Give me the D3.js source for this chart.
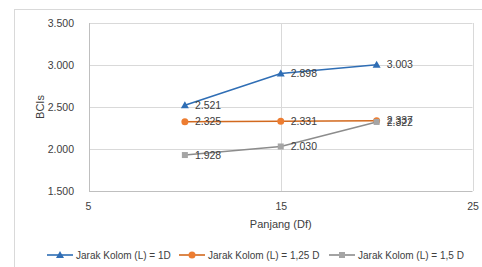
<!DOCTYPE html>
<html>
<head>
<meta charset="utf-8">
<script src="https://cdn.jsdelivr.net/npm/d3@7"></script>
<style>
  body{margin:0;background:#fff;}
  text{font-family:"Liberation Sans",Arial,sans-serif;fill:#404040;}
</style>
</head>
<body>
<div id="chart"></div>
<script>
var WIDTH=482,
	HEIGHT=267;

// data
var panjang=[10,15,20];
var seriesNames=["Jarak Kolom (L) = 1D","Jarak Kolom (L) = 1,25 D","Jarak Kolom (L) = 1,5 D"];
var bcis1D=[2.521,2.898,3.003];
var bcis125D=[2.325,2.331,2.337];
var bcis15D=[1.928,2.030,2.322];
var xTicks=[5,15,25];
var yTicks=[1.5,2.0,2.5,3.0,3.5];

var series=[
	{name:seriesNames[0],values:bcis1D,line:"#2F6EB5",fill:"#2F6EB5",marker:"triangle"},
	{name:seriesNames[1],values:bcis125D,line:"#D2691E",fill:"#ED7D31",marker:"circle"},
	{name:seriesNames[2],values:bcis15D,line:"#8C8C8C",fill:"#A5A5A5",marker:"square"}
];

var plot={left:89,right:472.5,top:23,bottom:191};

var svg=d3.select("#chart")
			.append("svg")
				.attr("width",WIDTH)
				.attr("height",HEIGHT);

// chart area border
svg.append("rect")
	.attr("x",14.5).attr("y",9.5)
	.attr("width",480).attr("height",280)
	.attr("fill","#fff")
	.attr("stroke","#D9D9D9");

var xscale=d3.scaleLinear().domain([5,25]).range([plot.left,plot.right]),
	yscale=d3.scaleLinear().domain([1.5,3.5]).range([plot.bottom,plot.top]);

// grid
var grid=svg.append("g");
grid.selectAll("line.h")
	.data(yTicks)
	.enter()
		.append("line")
			.attr("x1",plot.left).attr("x2",plot.right)
			.attr("y1",function(d){return Math.round(yscale(d))+0.5;})
			.attr("y2",function(d){return Math.round(yscale(d))+0.5;})
			.attr("stroke",function(d){return d==1.5?"#BFBFBF":"#D9D9D9";});
grid.selectAll("line.v")
	.data(xTicks)
	.enter()
		.append("line")
			.attr("y1",plot.top).attr("y2",plot.bottom)
			.attr("x1",function(d){return Math.round(xscale(d))+0.5;})
			.attr("x2",function(d){return Math.round(xscale(d))+0.5;})
			.attr("stroke",function(d){return d==5?"#BFBFBF":"#D9D9D9";});

// axes (labels only)
var yAxis=svg.append("g")
	.attr("transform","translate("+(plot.left-12)+",0)")
	.call(d3.axisLeft(yscale).tickValues(yTicks).tickSize(0).tickFormat(function(d){return d3.format(".3f")(d);}));
yAxis.select(".domain").remove();
yAxis.selectAll("text").style("font-size","10.5px").attr("fill","#404040");

var xAxis=svg.append("g")
	.attr("transform","translate(0,"+(plot.bottom+9)+")")
	.call(d3.axisBottom(xscale).tickValues(xTicks).tickSize(0));
xAxis.select(".domain").remove();
xAxis.selectAll("text").style("font-size","10.5px").attr("fill","#404040");
xAxis.selectAll("text").filter(function(d){return d==5;}).attr("text-anchor","start").attr("x",-4);

svg.append("text")
	.attr("x",xscale(15)).attr("y",228)
	.attr("text-anchor","middle")
	.style("font-size","11px")
	.text("Panjang (Df)");

svg.append("text")
	.attr("transform","translate(44,"+yscale(2.5)+") rotate(-90)")
	.attr("text-anchor","middle")
	.style("font-size","11px")
	.text("BCIs");

function drawMarker(g,type,color){
	if(type=="triangle"){
		g.append("path").attr("d","M0,-4L4,3L-4,3Z").attr("fill",color);
	}else if(type=="circle"){
		g.append("circle").attr("r",3.5).attr("fill",color);
	}else{
		g.append("rect").attr("x",-3).attr("y",-3).attr("width",6).attr("height",6).attr("fill",color);
	}
}

var line=d3.line()
	.x(function(d,i){return xscale(panjang[i]);})
	.y(function(d){return yscale(d);});

series.forEach(function(s){
	var g=svg.append("g");
	g.append("path")
		.attr("d",line(s.values))
		.attr("fill","none")
		.attr("stroke",s.line)
		.attr("stroke-width",1.6);
	s.values.forEach(function(v,i){
		var m=g.append("g").attr("transform","translate("+xscale(panjang[i])+","+yscale(v)+")");
		drawMarker(m,s.marker,s.fill);
	});
	g.selectAll("text.lbl")
		.data(s.values)
		.enter()
			.append("text")
				.attr("class","lbl")
				.attr("x",function(d,i){return xscale(panjang[i])+10;})
				.attr("y",function(d){return yscale(d);})
				.attr("dy","0.35em")
				.style("font-size","10.5px")
				.text(function(d){return d3.format(".3f")(d);});
});

// legend
var legendX=[47,179,329];
var legend=svg.append("g");
series.forEach(function(s,i){
	var g=legend.append("g").attr("transform","translate("+legendX[i]+",255)");
	g.append("line").attr("x1",0).attr("x2",26).attr("stroke",s.line).attr("stroke-width",1.6);
	drawMarker(g.append("g").attr("transform","translate(13,0)"),s.marker,s.fill);
	g.append("text").attr("x",29).attr("dy","0.35em").style("font-size","10px").text(s.name);
});
</script>
</body>
</html>
